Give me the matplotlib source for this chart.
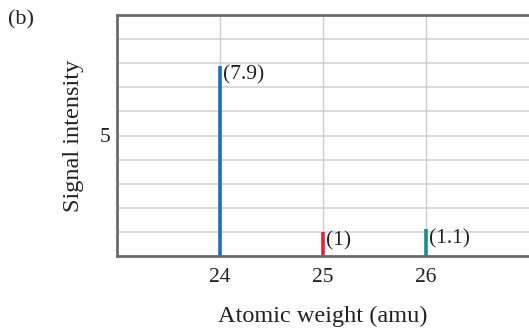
import matplotlib.pyplot as plt

# isotope masses and relative signal intensities
masses = [24, 25, 26]
intensities = [7.9, 1.0, 1.1]
labels = ['(7.9)', '(1)', '(1.1)']
colors = ['#1a6fc4', '#e8213a', '#17918c']

plt.rcParams['font.family'] = ['Liberation Serif', 'DejaVu Serif']

fig = plt.figure(figsize=(5.29, 3.29), dpi=100)
ax = fig.add_axes([117 / 529, 1 - 256 / 329, 1 - 117 / 529, 241 / 329])

# light grid behind the peaks
for y in range(1, 10):
    ax.axhline(y, color='#d4d4d4', linewidth=1.2, zorder=0)
for x in masses:
    ax.axvline(x, color='#cccccc', linewidth=1.0, zorder=0)

# peaks as vertical lines with value labels
for m, h, lab, c in zip(masses, intensities, labels, colors):
    ax.vlines(m, 0, h, color=c, linewidth=2.6, zorder=2)
    ax.annotate(lab, (m, h), xytext=(2, -6.5), textcoords='offset points',
                fontsize=15.5, color='#222222', ha='left', va='center')

ax.set_xlim(23, 27)
ax.set_ylim(0, 10)
ax.set_xticks(masses)
ax.set_yticks([5])
ax.tick_params(length=0, labelsize=15.5, colors='#222222')
ax.tick_params(axis='x', pad=9)
ax.tick_params(axis='y', pad=5)

for side in ['left', 'bottom', 'top']:
    ax.spines[side].set_color('#6b6b6b')
    ax.spines[side].set_linewidth(2)
ax.spines['right'].set_visible(False)

ax.set_xlabel('Atomic weight (amu)', fontsize=17.5, color='#222222', labelpad=13)
ax.set_ylabel('Signal intensity', fontsize=17.5, color='#222222', labelpad=11)

fig.text(8 / 529, 1 - 20 / 329, '(b)', fontsize=16, color='#222222',
         ha='left', va='center')

fig.savefig('out.png', dpi=100)
